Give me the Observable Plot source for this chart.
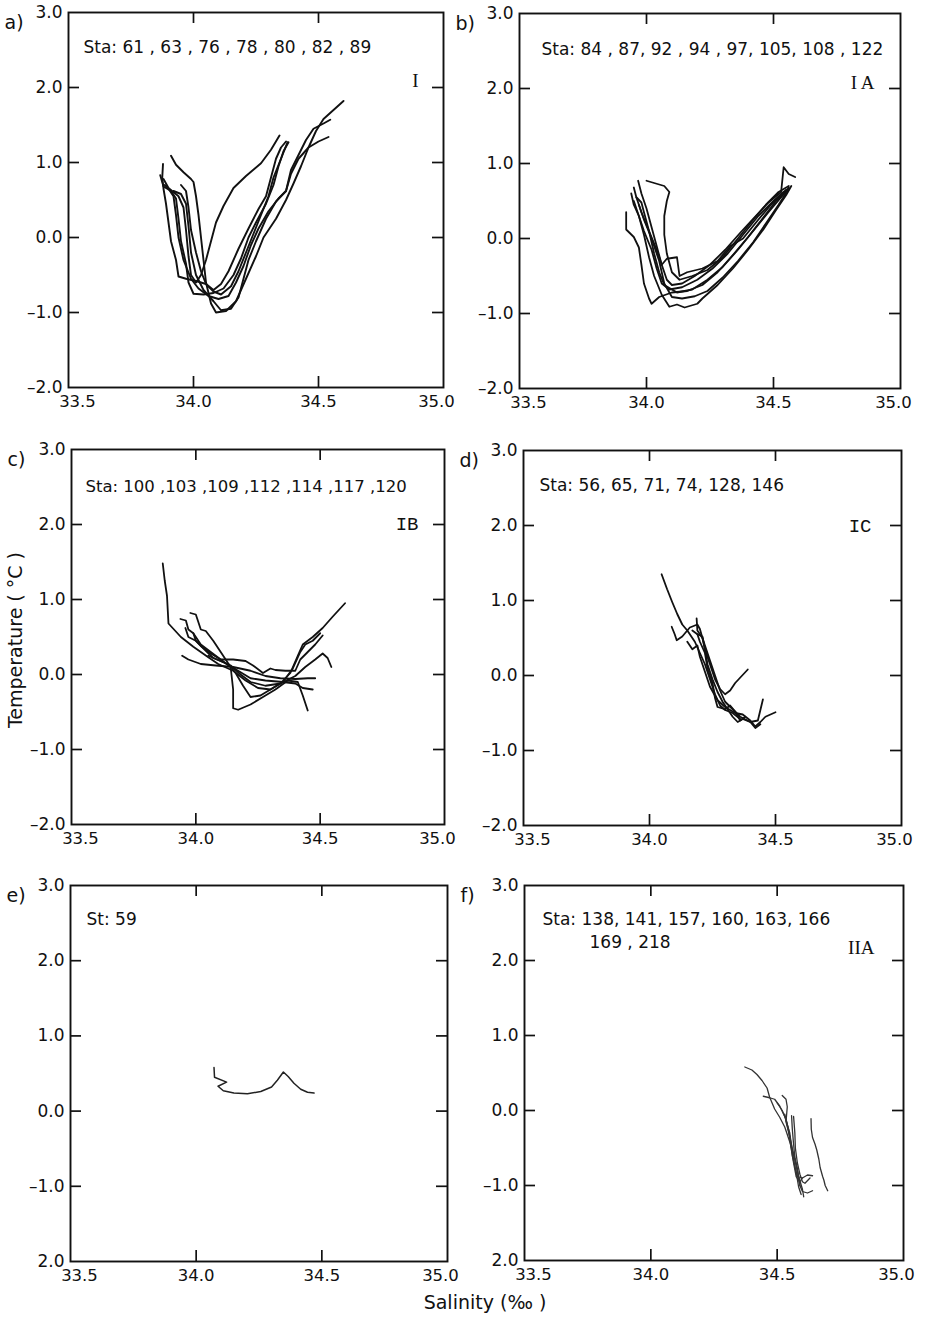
<!DOCTYPE html>
<html><head><meta charset="utf-8">
<script src="https://cdn.jsdelivr.net/npm/d3@7"></script>
<script src="https://cdn.jsdelivr.net/npm/@observablehq/plot@0.6"></script>
<style>
body{margin:0;background:#fff;}
#fig{position:relative;width:932px;height:1318px;overflow:hidden;background:#fff;font-family:"DejaVu Sans",sans-serif;color:#111;}
.ttl{position:absolute;font-size:19px;white-space:pre;color:#111;}
</style></head><body><div id="fig"></div>
<script>
// ---------- axis ticks ----------
const salinityTicks = [33.5, 34.0, 34.5, 35.0];
const salinityTickLabels = ["33.5", "34.0", "34.5", "35.0"];
const tempTicks = [3, 2, 1, 0, -1, -2];
const tempTickLabels = ["3.0", "2.0", "1.0", "0.0", "\u20131.0", "\u20132.0"];
const tempTickLabelsLowerRow = ["3.0", "2.0", "1.0", "0.0", "\u20131.0", "2.0"];

// ---------- station lists / groups ----------
const stationTexts = {
  a: "Sta: 61 , 63 , 76 , 78 , 80 , 82 , 89",
  b: "Sta: 84 , 87, 92 , 94 , 97, 105, 108 , 122",
  c: "Sta: 100 ,103 ,109 ,112 ,114 ,117 ,120",
  d: "Sta: 56, 65, 71, 74, 128, 146",
  e: "St: 59",
  f: "Sta: 138, 141, 157, 160, 163, 166"
};
const stationTextsLine2 = {f: "169 , 218"};
const groupNames = {a: "I", b: "I A", c: "IB", d: "IC", e: "", f: "IIA"};
const panelLabels = {a: "a)", b: "b)", c: "c)", d: "d)", e: "e)", f: "f)"};

// ---------- T-S curves: [salinity, temperature] per station ----------
const panelA = [
 [[33.91,1.09],[33.93,0.97],[33.96,0.87],[33.99,0.78],[34.00,0.74],[34.01,0.55],[34.02,0.30],[34.03,0.00],[34.04,-0.30],[34.05,-0.60],[34.07,-0.88],[34.09,-1.00],[34.13,-0.98],[34.17,-0.85],[34.21,-0.55],[34.25,-0.25],[34.28,0.00],[34.33,0.25],[34.37,0.50],[34.40,0.72],[34.43,0.95],[34.46,1.20],[34.49,1.42],[34.52,1.58],[34.56,1.70],[34.60,1.82]],
 [[33.878,0.98],[33.875,0.80],[33.88,0.65],[33.89,0.45],[33.90,0.20],[33.91,-0.05],[33.93,-0.30],[33.94,-0.52],[33.97,-0.55],[34.01,-0.58],[34.05,-0.62],[34.08,-0.72],[34.11,-0.76],[34.15,-0.65],[34.18,-0.45],[34.21,-0.20],[34.24,0.05],[34.27,0.30],[34.30,0.55],[34.32,0.80],[34.35,1.05],[34.376,1.27]],
 [[33.867,0.83],[33.88,0.68],[33.91,0.62],[33.93,0.52],[33.94,0.25],[33.95,-0.05],[33.97,-0.35],[33.98,-0.60],[34.00,-0.75],[34.04,-0.76],[34.08,-0.74],[34.12,-0.68],[34.16,-0.50],[34.19,-0.28],[34.22,0.00],[34.25,0.20],[34.29,0.45],[34.32,0.70],[34.34,0.95],[34.36,1.15],[34.38,1.27]],
 [[33.885,0.70],[33.90,0.65],[33.92,0.55],[33.93,0.30],[33.94,0.00],[33.96,-0.30],[33.99,-0.55],[34.02,-0.68],[34.06,-0.78],[34.10,-0.82],[34.14,-0.78],[34.17,-0.60],[34.20,-0.38],[34.23,-0.10],[34.26,0.12],[34.30,0.35],[34.34,0.52],[34.37,0.62],[34.39,0.85],[34.42,1.05],[34.46,1.20],[34.50,1.28],[34.54,1.34]],
 [[33.92,0.62],[33.95,0.58],[33.97,0.45],[33.98,0.15],[33.99,-0.20],[34.01,-0.50],[34.04,-0.70],[34.08,-0.85],[34.11,-0.97],[34.15,-0.95],[34.18,-0.80],[34.20,-0.55],[34.22,-0.30],[34.25,-0.05],[34.29,0.25],[34.33,0.48],[34.37,0.62],[34.39,0.90],[34.42,1.10],[34.45,1.30],[34.48,1.45],[34.52,1.52],[34.547,1.57]],
 [[33.95,0.70],[33.97,0.62],[33.98,0.40],[33.99,0.10],[34.01,-0.20],[34.03,-0.45],[34.05,-0.62],[34.08,-0.70],[34.11,-0.62],[34.14,-0.45],[34.18,-0.15],[34.22,0.12],[34.26,0.38],[34.29,0.55],[34.31,0.80],[34.33,1.05],[34.35,1.20],[34.37,1.28]],
 [[33.88,0.78],[33.90,0.66],[33.94,0.55],[33.96,0.40],[33.97,0.10],[33.98,-0.25],[33.99,-0.50],[34.01,-0.60],[34.03,-0.50],[34.05,-0.30],[34.07,-0.05],[34.09,0.20],[34.12,0.42],[34.16,0.66],[34.21,0.82],[34.27,0.99],[34.31,1.17],[34.344,1.36]]
];
const panelB = [
 [[34.00,0.77],[34.03,0.74],[34.07,0.70],[34.09,0.62],[34.08,0.50],[34.07,0.30],[34.07,0.05],[34.08,-0.20],[34.10,-0.45],[34.13,-0.55],[34.18,-0.50],[34.24,-0.42],[34.30,-0.25],[34.36,0.00],[34.42,0.25],[34.47,0.45],[34.52,0.62],[34.56,0.70]],
 [[33.967,0.77],[33.98,0.60],[34.00,0.40],[34.02,0.15],[34.04,-0.10],[34.06,-0.35],[34.08,-0.55],[34.10,-0.62],[34.14,-0.60],[34.19,-0.50],[34.25,-0.35],[34.31,-0.15],[34.37,0.08],[34.43,0.30],[34.48,0.48],[34.53,0.62],[34.54,0.95],[34.56,0.86],[34.585,0.82]],
 [[33.94,0.60],[33.95,0.45],[33.97,0.30],[33.99,0.10],[34.02,-0.15],[34.04,-0.40],[34.06,-0.60],[34.09,-0.68],[34.14,-0.65],[34.20,-0.55],[34.26,-0.40],[34.32,-0.20],[34.38,0.05],[34.44,0.30],[34.50,0.50],[34.55,0.65]],
 [[33.95,0.68],[33.96,0.55],[33.98,0.48],[33.99,0.35],[34.01,0.10],[34.03,-0.20],[34.05,-0.45],[34.07,-0.62],[34.12,-0.72],[34.18,-0.68],[34.24,-0.55],[34.30,-0.38],[34.36,-0.15],[34.42,0.10],[34.48,0.35],[34.53,0.55],[34.56,0.68]],
 [[33.92,0.35],[33.92,0.12],[33.95,0.02],[33.97,-0.12],[33.98,-0.35],[33.99,-0.60],[34.01,-0.80],[34.02,-0.87],[34.05,-0.78],[34.10,-0.72],[34.16,-0.70],[34.22,-0.62],[34.28,-0.45],[34.34,-0.22],[34.40,0.02],[34.46,0.28],[34.51,0.50],[34.55,0.62]],
 [[33.95,0.50],[33.97,0.30],[33.99,0.05],[34.01,-0.25],[34.03,-0.50],[34.06,-0.75],[34.09,-0.91],[34.12,-0.88],[34.15,-0.92],[34.20,-0.87],[34.22,-0.80],[34.28,-0.62],[34.34,-0.40],[34.40,-0.15],[34.46,0.12],[34.51,0.38],[34.55,0.58],[34.57,0.70]],
 [[33.96,0.55],[33.98,0.35],[34.01,0.10],[34.04,-0.15],[34.06,-0.35],[34.08,-0.27],[34.12,-0.25],[34.13,-0.50],[34.16,-0.45],[34.22,-0.40],[34.28,-0.30],[34.33,-0.10],[34.38,0.00],[34.44,0.25],[34.49,0.45],[34.54,0.62]],
 [[33.97,0.45],[33.99,0.25],[34.02,0.00],[34.05,-0.30],[34.07,-0.60],[34.10,-0.78],[34.14,-0.80],[34.19,-0.77],[34.24,-0.70],[34.30,-0.52],[34.36,-0.30],[34.42,-0.05],[34.47,0.20],[34.52,0.45],[34.56,0.66]]
];
const panelC = [
 [[33.867,1.48],[33.875,1.25],[33.884,1.05],[33.89,0.68],[33.94,0.50],[33.99,0.37],[34.05,0.23],[34.09,0.14],[34.15,0.05],[34.20,-0.08],[34.25,-0.18],[34.30,-0.20],[34.34,-0.12],[34.38,0.02],[34.41,0.25],[34.43,0.40],[34.47,0.50],[34.51,0.62],[34.55,0.77],[34.60,0.95]],
 [[33.978,0.82],[34.00,0.80],[34.01,0.70],[34.02,0.60],[34.04,0.58],[34.07,0.45],[34.10,0.30],[34.13,0.15],[34.16,0.02],[34.19,-0.15],[34.22,-0.30],[34.26,-0.28],[34.30,-0.20],[34.35,-0.10],[34.39,0.08],[34.42,0.30],[34.44,0.40],[34.47,0.45],[34.50,0.55]],
 [[33.938,0.74],[33.96,0.72],[33.97,0.60],[33.99,0.55],[34.00,0.45],[34.03,0.35],[34.07,0.22],[34.12,0.15],[34.17,0.05],[34.22,-0.05],[34.28,-0.08],[34.35,-0.10],[34.40,-0.12],[34.43,-0.18],[34.47,-0.20]],
 [[33.945,0.25],[33.97,0.20],[34.02,0.14],[34.08,0.12],[34.15,0.10],[34.22,0.05],[34.28,-0.02],[34.34,-0.05],[34.40,-0.06],[34.45,-0.05],[34.48,-0.05]],
 [[33.958,0.62],[33.97,0.50],[34.00,0.45],[34.02,0.38],[34.06,0.28],[34.10,0.20],[34.14,0.10],[34.15,-0.20],[34.15,-0.45],[34.17,-0.47],[34.22,-0.40],[34.27,-0.30],[34.32,-0.20],[34.37,-0.08],[34.41,-0.10],[34.43,-0.28],[34.45,-0.48]],
 [[33.99,0.55],[34.02,0.40],[34.06,0.30],[34.10,0.20],[34.15,0.20],[34.20,0.18],[34.23,0.12],[34.27,0.02],[34.30,0.08],[34.32,0.06],[34.36,0.05],[34.40,0.05],[34.42,0.20],[34.45,0.30],[34.48,0.40],[34.51,0.52]],
 [[34.05,0.25],[34.10,0.18],[34.14,0.12],[34.18,0.00],[34.22,-0.10],[34.28,-0.15],[34.34,-0.12],[34.40,-0.02],[34.44,0.10],[34.48,0.20],[34.51,0.28],[34.53,0.22],[34.545,0.10]]
];
const panelD = [
 [[34.048,1.35],[34.07,1.15],[34.09,0.98],[34.11,0.82],[34.13,0.68],[34.15,0.60],[34.18,0.45],[34.20,0.30],[34.22,0.15],[34.24,-0.05],[34.26,-0.25],[34.28,-0.40],[34.30,-0.46],[34.33,-0.50],[34.36,-0.58]],
 [[34.088,0.65],[34.10,0.55],[34.108,0.47],[34.13,0.52],[34.14,0.56],[34.16,0.64],[34.19,0.68],[34.20,0.62],[34.21,0.50],[34.22,0.35],[34.24,0.15],[34.26,-0.05],[34.28,-0.18],[34.30,-0.25],[34.32,-0.20],[34.34,-0.10],[34.39,0.08]],
 [[34.187,0.76],[34.19,0.60],[34.21,0.50],[34.22,0.40],[34.24,0.20],[34.26,0.00],[34.28,-0.20],[34.30,-0.35],[34.33,-0.45],[34.36,-0.55],[34.40,-0.62],[34.43,-0.60],[34.45,-0.32]],
 [[34.15,0.45],[34.17,0.35],[34.19,0.40],[34.20,0.25],[34.22,0.05],[34.24,-0.15],[34.27,-0.33],[34.30,-0.42],[34.34,-0.50],[34.37,-0.52],[34.40,-0.60],[34.42,-0.68],[34.44,-0.62],[34.46,-0.55],[34.50,-0.49]],
 [[34.17,0.60],[34.19,0.55],[34.21,0.52],[34.22,0.35],[34.23,0.15],[34.25,-0.05],[34.27,-0.22],[34.29,-0.35],[34.31,-0.45],[34.33,-0.55],[34.35,-0.62],[34.37,-0.58],[34.40,-0.62],[34.42,-0.70],[34.44,-0.65]],
 [[34.19,0.55],[34.20,0.45],[34.22,0.30],[34.23,0.10],[34.25,-0.10],[34.26,-0.30],[34.27,-0.42],[34.30,-0.45],[34.32,-0.40],[34.34,-0.48],[34.36,-0.60],[34.38,-0.55]]
];
const panelE = [
 [[34.071,0.58],[34.073,0.45],[34.121,0.385],[34.087,0.33],[34.108,0.27],[34.15,0.24],[34.204,0.23],[34.257,0.26],[34.30,0.32],[34.323,0.41],[34.347,0.52],[34.366,0.46],[34.389,0.37],[34.416,0.29],[34.443,0.25],[34.469,0.24]]
];
const panelF = [
 [[34.372,0.58],[34.40,0.54],[34.42,0.48],[34.44,0.40],[34.46,0.30],[34.47,0.18],[34.49,0.02],[34.51,-0.09],[34.53,-0.22],[34.55,-0.42],[34.57,-0.65],[34.585,-0.88],[34.60,-1.05],[34.605,-1.15]],
 [[34.445,0.19],[34.47,0.17],[34.49,0.15],[34.51,0.06],[34.53,-0.08],[34.55,-0.30],[34.56,-0.55],[34.57,-0.75],[34.58,-0.88],[34.60,-0.90],[34.62,-0.86],[34.64,-0.87]],
 [[34.52,0.20],[34.535,0.15],[34.54,0.05],[34.535,-0.15],[34.55,-0.35],[34.565,-0.58],[34.58,-0.80],[34.59,-1.00],[34.60,-1.08],[34.62,-1.10],[34.64,-1.07]],
 [[34.634,-0.11],[34.635,-0.25],[34.64,-0.36],[34.65,-0.45],[34.657,-0.53],[34.665,-0.65],[34.67,-0.76],[34.68,-0.88],[34.685,-0.93],[34.69,-1.00],[34.70,-1.07]],
 [[34.557,-0.07],[34.56,-0.25],[34.565,-0.45],[34.57,-0.62],[34.58,-0.78],[34.585,-0.92],[34.59,-1.00]],
 [[34.565,-0.08],[34.57,-0.30],[34.572,-0.50],[34.58,-0.70],[34.59,-0.85],[34.60,-0.95],[34.61,-0.97],[34.63,-0.90]],
 [[34.50,0.10],[34.52,0.00],[34.535,-0.12],[34.55,-0.35],[34.56,-0.60],[34.575,-0.82],[34.585,-1.02],[34.595,-1.12]],
 [[34.53,-0.05],[34.545,-0.25],[34.555,-0.50],[34.565,-0.70],[34.575,-0.88],[34.59,-0.95],[34.60,-0.90]]
];

// ---------- layout (pixel frames) and styles ----------
const layout = {
  a: {left: 68, top: 12, w: 375, h: 375},
  b: {left: 519, top: 13, w: 381, h: 375},
  c: {left: 71, top: 449, w: 373, h: 375},
  d: {left: 523, top: 450, w: 378, h: 375},
  e: {left: 70, top: 885, w: 377, h: 376},
  f: {left: 524, top: 885, w: 379, h: 375}
};
const panelStyle = {
  a: {curves: panelA, stroke: "#111", sw: 1.9, yl: tempTickLabels, stFont: 17, stDx: 15, stDy: 28, grFont: "Liberation Serif", grDx: -25, grDy: 61},
  b: {curves: panelB, stroke: "#111", sw: 1.8, yl: tempTickLabels, stFont: 17, stDx: 22, stDy: 29, grFont: "Liberation Serif", grDx: -26, grDy: 62},
  c: {curves: panelC, stroke: "#111", sw: 1.8, yl: tempTickLabels, stFont: 16.5, stDx: 14, stDy: 31, grFont: "Liberation Mono", grDx: -26, grDy: 67},
  d: {curves: panelD, stroke: "#111", sw: 1.8, yl: tempTickLabels, stFont: 17, stDx: 16, stDy: 28, grFont: "Liberation Mono", grDx: -30, grDy: 68},
  e: {curves: panelE, stroke: "#222", sw: 1.5, yl: tempTickLabelsLowerRow, stFont: 17, stDx: 16, stDy: 27, grFont: "Liberation Serif", grDx: -28, grDy: 56},
  f: {curves: panelF, stroke: "#333", sw: 1.3, yl: tempTickLabelsLowerRow, stFont: 17, stDx: 18, stDy: 27, grFont: "Liberation Serif", grDx: -29, grDy: 55}
};

const fig = document.getElementById("fig");
const innerS = salinityTicks.slice(1, -1);
const innerT = tempTicks.slice(1, -1);
const mL = 70, mT = 14, mR = 24, mB = 34, tickLen = 11;

for (const key of ["a", "b", "c", "d", "e", "f"]) {
  const L = layout[key], P = panelStyle[key];
  const rows = P.curves.flatMap((c, k) => c.map(([s, t]) => ({s, t, k})));
  const ink = {stroke: "#111", strokeWidth: 1.7};
  const marks = [
    Plot.line(rows, {x: "s", y: "t", z: "k", stroke: P.stroke, strokeWidth: P.sw, strokeLinejoin: "round", strokeLinecap: "round"}),
    Plot.frame({stroke: "#111", strokeWidth: 1.9}),
    Plot.tickX(innerS, {x: d => d, insetTop: L.h - tickLen, ...ink}),
    Plot.tickX(innerS, {x: d => d, insetBottom: L.h - tickLen, ...ink}),
    Plot.tickY(innerT, {y: d => d, insetRight: L.w - tickLen, ...ink}),
    Plot.tickY(innerT, {y: d => d, insetLeft: L.w - tickLen, ...ink}),
    Plot.text(tempTicks, {y: d => d, text: (d, i) => P.yl[i], frameAnchor: "left", dx: -6, textAnchor: "end", fontSize: 17, fill: "#111"}),
    Plot.text(innerS, {x: d => d, text: (d, i) => salinityTickLabels[i + 1], frameAnchor: "bottom", dy: 19, fontSize: 16.5, fill: "#111"}),
    Plot.text(salinityTicks.slice(0, 1), {x: d => d, text: () => salinityTickLabels[0], frameAnchor: "bottom", dy: 19, dx: 9, fontSize: 16.5, fill: "#111"}),
    Plot.text(salinityTicks.slice(-1), {x: d => d, text: () => salinityTickLabels[3], frameAnchor: "bottom", dy: 19, dx: -7, fontSize: 16.5, fill: "#111"}),
    Plot.text([panelLabels[key]], {text: d => d, frameAnchor: "top-left", dx: -64, dy: 3, textAnchor: "start", fontSize: 19, fill: "#111"}),
    Plot.text([stationTexts[key]], {text: d => d, frameAnchor: "top-left", dx: P.stDx, dy: P.stDy, textAnchor: "start", fontSize: P.stFont, fill: "#111"}),
    Plot.text([groupNames[key]], {text: d => d, frameAnchor: "top-right", dx: P.grDx, dy: P.grDy, textAnchor: "end", fontSize: 19, fontFamily: P.grFont, fill: "#111"})
  ];
  if (stationTextsLine2[key]) {
    marks.push(Plot.text([stationTextsLine2[key]], {text: d => d, frameAnchor: "top-left", dx: 65, dy: 50, textAnchor: "start", fontSize: P.stFont, fill: "#111"}));
  }
  const chart = Plot.plot({
    width: mL + L.w + mR, height: mT + L.h + mB,
    marginLeft: mL, marginTop: mT, marginRight: mR, marginBottom: mB,
    x: {domain: [33.5, 35.0], axis: null},
    y: {domain: [-2, 3], axis: null},
    style: {background: "transparent", overflow: "visible", fontFamily: "DejaVu Sans", color: "#111"},
    marks
  });
  chart.style.position = "absolute";
  chart.style.left = (L.left - mL) + "px";
  chart.style.top = (L.top - mT) + "px";
  fig.appendChild(chart);
}

// axis titles
const yTitle = document.createElement("div");
yTitle.className = "ttl";
yTitle.textContent = "Temperature ( \u00B0C )";
yTitle.style.left = "15px"; yTitle.style.top = "640px";
yTitle.style.transform = "translate(-50%,-50%) rotate(-90deg)";
fig.appendChild(yTitle);
const xTitle = document.createElement("div");
xTitle.className = "ttl";
xTitle.textContent = "Salinity (\u2030 )";
xTitle.style.left = "485px"; xTitle.style.top = "1302px";
xTitle.style.transform = "translate(-50%,-50%)";
fig.appendChild(xTitle);
</script></body></html>
